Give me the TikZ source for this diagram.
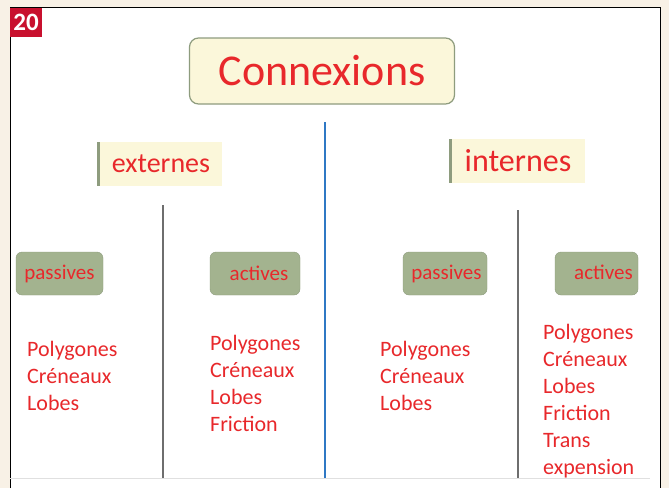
\documentclass[tikz,border=0pt]{standalone}
\usepackage{fontspec}
\setmainfont{Carlito}
\usepackage{xcolor}
\usepackage{tikz}
\usetikzlibrary{positioning}
\definecolor{pagebg}{HTML}{F8F1E6}
\definecolor{badgered}{HTML}{C8102E}
\definecolor{txtred}{HTML}{E8282B}
\definecolor{boxyellow}{HTML}{FBF7DA}
\definecolor{boxedge}{HTML}{8E9C7E}
\definecolor{boxgreen}{HTML}{A3B38F}
\definecolor{lineblue}{HTML}{2F78C4}
\definecolor{linegray}{HTML}{6E6E6E}

\begin{document}
\begin{tikzpicture}[x=1pt, y=-1pt,
  title/.style={draw=boxedge, line width=1.2pt, fill=boxyellow, rounded corners=9pt, text=txtred, font=\fontsize{44}{48}\selectfont, minimum width=265pt, minimum height=66pt},
  branch/.style={fill=boxyellow, text=txtred, minimum height=44pt, preaction={fill=boxedge, rounded corners=4pt, transform canvas={xshift=-3pt}}},
  kind/.style={draw=boxedge, fill=boxgreen, rounded corners=6pt, text=txtred, font=\fontsize{21}{24}\selectfont, minimum height=43pt, inner sep=0pt},
  items/.style={anchor=north west, align=left, inner sep=0pt, text=txtred, font=\fontsize{22}{27}\selectfont}]
\useasboundingbox (0,0) rectangle (669,488);
\fill[pagebg] (0,0) rectangle (669,488);
\fill[white] (10,7) rectangle (660,488);
\draw[line width=1pt] (10,488) -- (10,7) -- (660,7) -- (660,488);
\draw[black!12] (10,478) -- (650,478);
\node[fill=badgered, text=white, font=\bfseries\fontsize{25}{26}\selectfont, minimum width=32pt, minimum height=29pt, inner sep=0pt] (num) at (26,22) {20};

\node[title] (conn) at (322,71) {Connexions};
\node[branch, minimum width=122pt, font=\fontsize{28}{32}\selectfont] (ext) at (161,164) {externes};
\node[branch, minimum width=133pt, font=\fontsize{32}{36}\selectfont] (int) at (518,161) {internes};

\node[kind, minimum width=87pt] (extpas) at (59.5,273.5) {\raisebox{-2pt}{passives}};
\node[kind, minimum width=90pt] (extact) at (255,273.5) {\hspace{8pt}actives};
\node[kind, minimum width=84pt] (intpas) at (445,273.5) {\hspace{3pt}\raisebox{-2pt}{passives}};
\node[kind, minimum width=83pt] (intact) at (596.5,273.5) {\raisebox{2pt}{\hspace{14pt}actives}};

\node[items] (extpaslist) at (27,341) {Polygones\\Créneaux\\Lobes};
\node[items] (extactlist) at (210,335) {Polygones\\Créneaux\\Lobes\\Friction};
\node[items] (intpaslist) at (380,341) {Polygones\\Créneaux\\Lobes};
\node[items] (intactlist) at (543,324) {Polygones\\Créneaux\\Lobes\\Friction\\Trans\\expension};

\coordinate (midtop) at (325,122);
\coordinate (midbot) at (325,478);
\coordinate (exttop) at (163,205);
\coordinate (extbot) at (163,478);
\coordinate (inttop) at (518,210);
\coordinate (intbot) at (518,478);
\draw[lineblue, line width=2pt] (midtop) -- (midbot);
\draw[linegray, line width=1.5pt] (exttop) -- (extbot);
\draw[linegray, line width=1.5pt] (inttop) -- (intbot);
\end{tikzpicture}
\end{document}
